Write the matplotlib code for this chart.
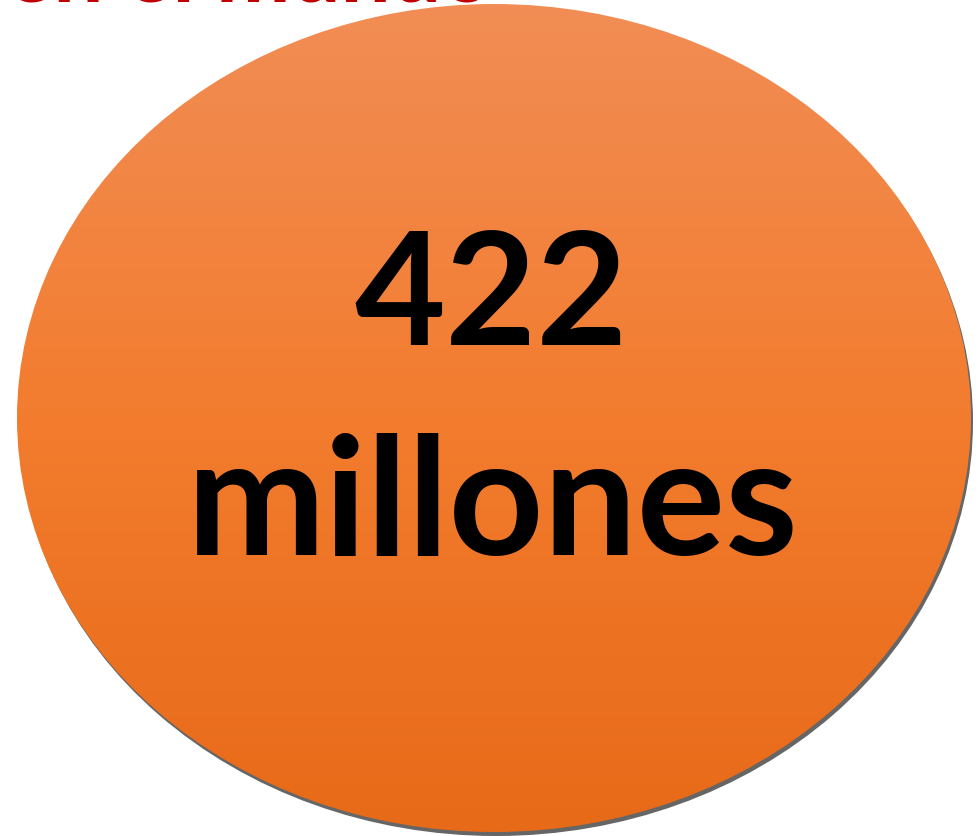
import numpy as np
import matplotlib.pyplot as plt
from matplotlib.patches import Ellipse
from matplotlib.colors import LinearSegmentedColormap

# Datos del gráfico
titulo = "Diabetes en el mundo"
valor = "422"
unidad = "millones"
color_arriba = "#F18D55"
color_abajo = "#E76A18"

W, H = 980, 837
fig = plt.figure(figsize=(W / 100, H / 100), dpi=100)
ax = fig.add_axes([0, 0, 1, 1])
ax.set_xlim(0, W)
ax.set_ylim(H, 0)
ax.axis("off")

cx, cy, ew, eh = 494, 419, 954, 828

# sombra
sombra = Ellipse((cx + 2, cy + 4), ew, eh, facecolor="#666666", edgecolor="none", zorder=1)
ax.add_patch(sombra)

# elipse con degradado
elipse = Ellipse((cx, cy), ew, eh, facecolor="none", edgecolor="none", zorder=2)
ax.add_patch(elipse)
cmap = LinearSegmentedColormap.from_list("naranja", [color_arriba, "#F37C2E", color_abajo])
grad = np.linspace(0, 1, 256).reshape(-1, 1)
img = ax.imshow(grad, cmap=cmap, extent=[cx - ew / 2, cx + ew / 2, cy + eh / 2, cy - eh / 2],
                aspect="auto", zorder=2, origin="upper")
img.set_clip_path(elipse)

ax.set_xlim(0, W)
ax.set_ylim(H, 0)

ax.text(491, 345, valor, ha="center", va="baseline", fontsize=113, fontweight="bold",
        family="Lato", color="black", zorder=3)
ax.text(493, 555, unidad, ha="center", va="baseline", fontsize=119, fontweight="bold",
        family="Lato", color="black", zorder=3)

# título cortado arriba, como en el original
ax.text(492, 1, titulo, ha="right", va="baseline", fontsize=64, fontweight="bold",
        family="Lato", color="#C00000", zorder=4)

fig.savefig("out.png", dpi=100)
